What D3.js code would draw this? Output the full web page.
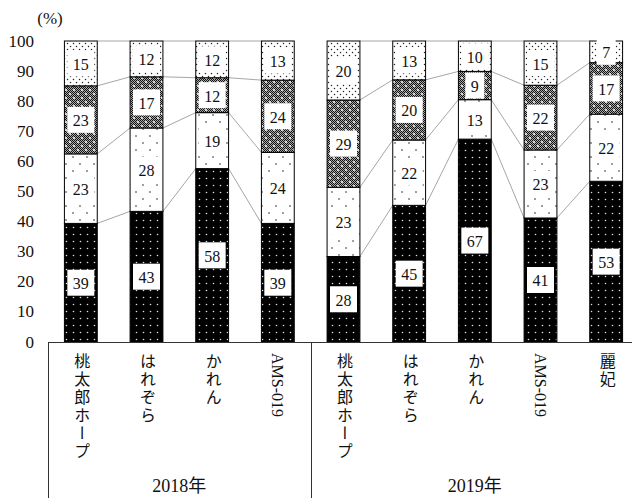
<!DOCTYPE html>
<html>
<head>
<meta charset="UTF-8">
<script src="https://cdn.jsdelivr.net/npm/d3@7"></script>
<style>
  body { margin: 0; background: #fff; }
  text { font-family: "Liberation Serif", "Noto Sans CJK JP", serif; fill: #111; }
</style>
</head>
<body>
<div id="chart"></div>
<script>
// categories
var years = ["2018年", "2019年"];
var varieties = ["桃太郎ホープ", "はれぞら", "かれん", "AMS-019", "桃太郎ホープ", "はれぞら", "かれん", "AMS-019", "麗妃"];
var yearIndex = [0, 0, 0, 0, 1, 1, 1, 1, 1];
var yTicks = [0, 10, 20, 30, 40, 50, 60, 70, 80, 90, 100];

// series, bottom to top (%)
var seriesA = [39.4, 43.4, 57.6, 39.4, 28.4, 45.4, 67.4, 41.2, 53.4];
var seriesB = [23.1, 27.7, 18.6, 23.6, 23.0, 21.7, 13.1, 22.6, 22.3];
var seriesC = [22.6, 17.0, 11.6, 24.0, 29.0, 20.0, 9.4, 21.5, 17.1];
var seriesD = [14.9, 11.9, 12.2, 13.0, 19.6, 12.9, 10.1, 14.7, 7.2];

var width = 632, height = 498;
var keys = ["a", "b", "c", "d"];
var rows = varieties.map(function(v, i) {
  return { id: i, name: v, year: yearIndex[i], a: seriesA[i], b: seriesB[i], c: seriesC[i], d: seriesD[i] };
});
var stacked = d3.stack().keys(keys)(rows);

var svg = d3.select("#chart").append("svg")
  .attr("width", width).attr("height", height);

var x = d3.scaleBand()
  .domain(rows.map(function(d) { return d.id; }))
  .range([48, 639])
  .paddingInner(0.5)
  .paddingOuter(0.25);

var y = d3.scaleLinear().domain([0, 100]).range([342, 41]);

// patterns
var defs = svg.append("defs");

var pA = defs.append("pattern").attr("id", "pA").attr("patternUnits", "userSpaceOnUse")
  .attr("width", 7).attr("height", 7);
pA.append("rect").attr("width", 7).attr("height", 7).attr("fill", "#000");
pA.append("circle").attr("cx", 3.5).attr("cy", 3.5).attr("r", 0.8).attr("fill", "#ddd");

var pB = defs.append("pattern").attr("id", "pB").attr("patternUnits", "userSpaceOnUse")
  .attr("width", 14).attr("height", 14);
pB.append("rect").attr("width", 14).attr("height", 14).attr("fill", "#fff");
pB.append("circle").attr("cx", 3).attr("cy", 3).attr("r", 0.8).attr("fill", "#222");
pB.append("circle").attr("cx", 10).attr("cy", 10).attr("r", 0.8).attr("fill", "#222");

var pC = defs.append("pattern").attr("id", "pC").attr("patternUnits", "userSpaceOnUse")
  .attr("width", 8).attr("height", 8);
pC.append("rect").attr("width", 8).attr("height", 8).attr("fill", "#aaa");
for (var i = 0; i < 8; i++) {
  for (var j = 0; j < 8; j++) {
    if ((i + j) % 2 === 0) pC.append("rect").attr("x", i).attr("y", j).attr("width", 1).attr("height", 1).attr("fill", "#111");
  }
}
pC.append("circle").attr("cx", 2).attr("cy", 2).attr("r", 1).attr("fill", "#fff");
pC.append("circle").attr("cx", 6).attr("cy", 6).attr("r", 1).attr("fill", "#fff");

var pD = defs.append("pattern").attr("id", "pD").attr("patternUnits", "userSpaceOnUse")
  .attr("width", 6).attr("height", 6);
pD.append("rect").attr("width", 6).attr("height", 6).attr("fill", "#fff");
pD.append("circle").attr("cx", 1.5).attr("cy", 1.5).attr("r", 0.75).attr("fill", "#222");
pD.append("circle").attr("cx", 4.5).attr("cy", 4.5).attr("r", 0.75).attr("fill", "#222");

var fills = { a: "url(#pA)", b: "url(#pB)", c: "url(#pC)", d: "url(#pD)" };

// series lines (within each year)
var lineG = svg.append("g").attr("stroke", "#a6a6a6").attr("stroke-width", 1).attr("fill", "none");
stacked.forEach(function(layer) {
  for (var i = 0; i < rows.length - 1; i++) {
    if (rows[i].year !== rows[i + 1].year) continue;
    lineG.append("line")
      .attr("x1", x(i) + x.bandwidth()).attr("y1", y(layer[i][1]))
      .attr("x2", x(i + 1)).attr("y2", y(layer[i + 1][1]));
  }
});

// bars
var barG = svg.append("g");
stacked.forEach(function(layer) {
  barG.selectAll(null).data(layer).enter().append("rect")
    .attr("x", function(d, i) { return x(i); })
    .attr("y", function(d) { return y(d[1]); })
    .attr("width", x.bandwidth())
    .attr("height", function(d) { return y(d[0]) - y(d[1]); })
    .attr("fill", fills[layer.key])
    .attr("stroke", "#000")
    .attr("stroke-width", 1);
});

// data labels
var labG = svg.append("g");
stacked.forEach(function(layer) {
  layer.forEach(function(d, i) {
    var txt = String(Math.round(d[1] - d[0]));
    var cx = x(i) + x.bandwidth() / 2;
    var cy = y((d[0] + d[1]) / 2);
    var w = txt.length * 8 + 11;
    labG.append("rect").attr("x", cx - w / 2).attr("y", cy - 13)
      .attr("width", w).attr("height", 26).attr("fill", "#fff");
    labG.append("text").attr("x", cx).attr("y", cy + 1)
      .attr("text-anchor", "middle").attr("dominant-baseline", "central")
      .attr("font-size", 16).text(txt);
  });
});

// y tick labels
svg.append("g").selectAll("text").data(yTicks).enter().append("text")
  .attr("x", 34).attr("y", function(d) { return y(d); })
  .attr("text-anchor", "end").attr("dominant-baseline", "central")
  .attr("font-size", 17).text(function(d) { return d; });

svg.append("text").attr("x", 50).attr("y", 18)
  .attr("text-anchor", "middle").attr("dominant-baseline", "central")
  .attr("font-size", 17).text("(%)");

// category axis box
var step = x.step();
var axG = svg.append("g").attr("stroke", "#333").attr("stroke-width", 1);
axG.append("line").attr("x1", 48).attr("x2", 639).attr("y1", 342.5).attr("y2", 342.5);
[0, 4, 9].forEach(function(k) {
  var xx = Math.round(48 + k * step) + 0.5;
  axG.append("line").attr("x1", xx).attr("x2", xx).attr("y1", 342).attr("y2", 498);
});

// variety labels (vertical)
svg.append("g").selectAll("text").data(rows).enter().append("text")
  .attr("x", function(d) { return x(d.id) + x.bandwidth() / 2; })
  .attr("y", 353)
  .attr("font-size", 16)
  .style("writing-mode", "vertical-rl")
  .style("letter-spacing", function(d) { return /^[A-Z0-9-]+$/.test(d.name) ? "0px" : "2px"; })
  .text(function(d) { return d.name; });

// year labels
svg.append("g").selectAll("text").data(years).enter().append("text")
  .attr("x", function(d, k) {
    var ids = rows.filter(function(r) { return r.year === k; });
    return (48 + ids[0].id * step + 48 + (ids[ids.length - 1].id + 1) * step) / 2;
  })
  .attr("y", 486)
  .attr("text-anchor", "middle").attr("dominant-baseline", "central")
  .attr("font-size", 18).text(function(d) { return d; });
</script>
</body>
</html>
